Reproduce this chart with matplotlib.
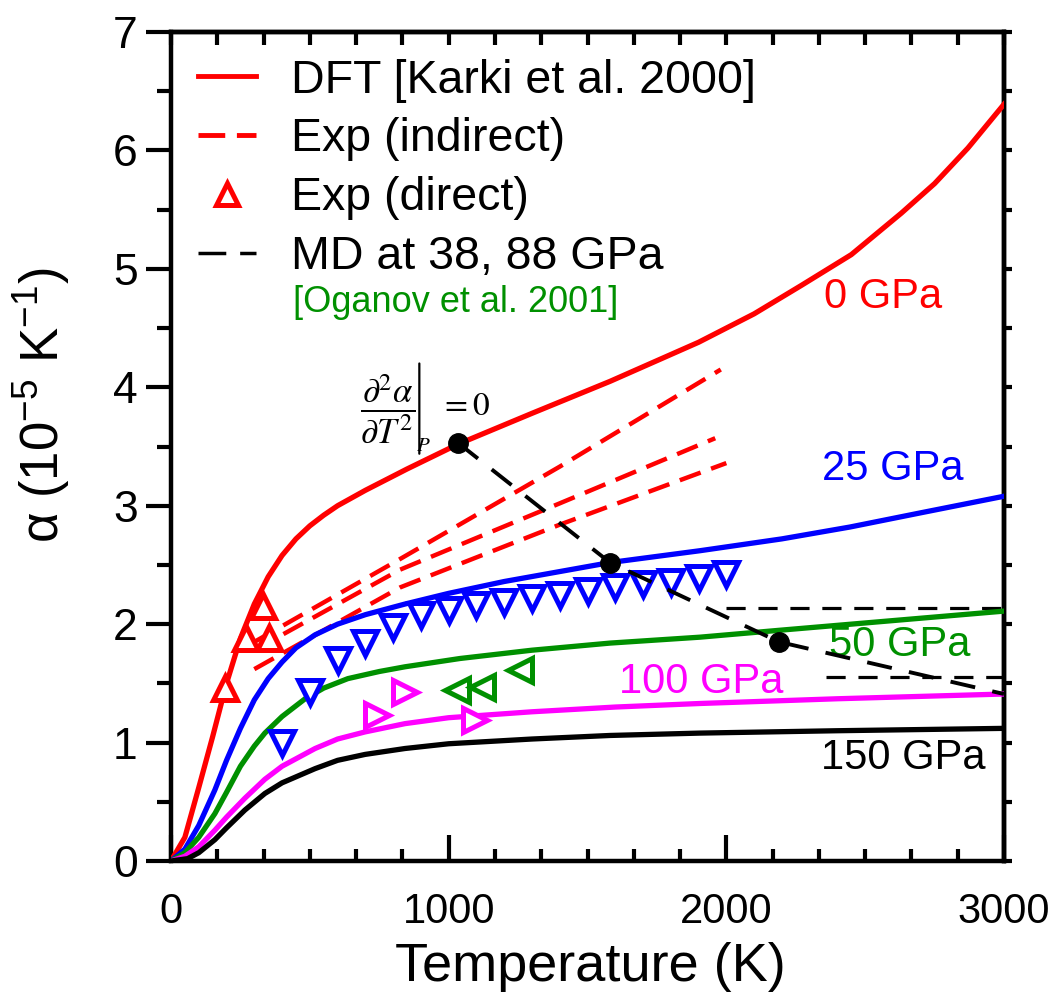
import matplotlib
matplotlib.use("Agg")
import matplotlib.pyplot as plt
from matplotlib.lines import Line2D
from matplotlib.ticker import MultipleLocator

plt.rcParams["font.family"] = ["Liberation Sans", "DejaVu Sans"]
plt.rcParams["mathtext.fontset"] = "custom"
plt.rcParams["mathtext.rm"] = "Liberation Sans"
plt.rcParams["mathtext.it"] = "Liberation Sans:italic"

RED = "#ff0000"
BLUE = "#0000ff"
GREEN = "#009000"
MAGENTA = "#ff00ff"
BLACK = "#000000"

# DFT curves, alpha in 1e-5 / K
t_0gpa = [0, 50, 100, 150, 200, 250, 300, 350, 400, 450, 500, 550, 600, 700, 850, 1034,
          1300, 1581, 1900, 2100, 2270, 2450, 2630, 2750, 2870, 3000]
a_0gpa = [0, 0.2, 0.62, 1.05, 1.5, 1.88, 2.17, 2.4, 2.58, 2.72, 2.83, 2.92, 3.0, 3.13, 3.31, 3.52,
          3.78, 4.05, 4.38, 4.62, 4.86, 5.12, 5.47, 5.72, 6.02, 6.39]

t_25gpa = [0, 50, 100, 158, 200, 250, 300, 350, 400, 450, 519, 600, 700, 843, 1000, 1200,
           1581, 1905, 2200, 2445, 2700, 3000]
a_25gpa = [0, 0.1, 0.3, 0.6, 0.85, 1.12, 1.36, 1.54, 1.68, 1.8, 1.91, 2.0, 2.08, 2.17, 2.26, 2.36,
           2.52, 2.62, 2.72, 2.82, 2.94, 3.08]

t_50gpa = [0, 50, 100, 158, 200, 250, 300, 338, 400, 483, 550, 637, 750, 843, 1041, 1300,
           1581, 1905, 2200, 2600, 3000]
a_50gpa = [0, 0.07, 0.2, 0.4, 0.58, 0.8, 0.97, 1.08, 1.22, 1.37, 1.46, 1.54, 1.6, 1.64, 1.71, 1.78,
           1.84, 1.89, 1.95, 2.03, 2.11]

t_100gpa = [0, 50, 100, 158, 200, 266, 338, 400, 519, 600, 699, 843, 1000, 1300, 1600, 1905, 2400, 3000]
a_100gpa = [0, 0.04, 0.12, 0.26, 0.37, 0.53, 0.69, 0.8, 0.95, 1.03, 1.09, 1.16, 1.21, 1.26, 1.3, 1.33, 1.37, 1.41]

t_150gpa = [0, 60, 100, 158, 200, 266, 338, 400, 519, 600, 699, 843, 1000, 1300, 1581, 1905, 2400, 3000]
a_150gpa = [0, 0.02, 0.07, 0.18, 0.28, 0.43, 0.57, 0.66, 0.78, 0.85, 0.9, 0.95, 0.99, 1.03, 1.06, 1.08, 1.1, 1.12]

# experiments (indirect)
t_ind1 = [300, 825, 1400, 1980]
a_ind1 = [1.85, 2.55, 3.33, 4.15]
t_ind2 = [300, 825, 1400, 1960]
a_ind2 = [1.78, 2.46, 3.02, 3.57]
t_ind3 = [300, 825, 1400, 2000]
a_ind3 = [1.62, 2.31, 2.84, 3.36]

# experiments (direct)
t_dir_0 = [194, 270, 331, 352]
a_dir_0 = [1.46, 1.88, 2.15, 1.88]
t_dir_25 = [400, 500, 600, 700, 800, 900, 1000, 1100, 1200, 1300, 1400, 1500, 1600, 1700, 1800, 1900, 2000]
a_dir_25 = [1.0, 1.43, 1.7, 1.84, 1.98, 2.08, 2.12, 2.16, 2.19, 2.22, 2.25, 2.28, 2.31, 2.34, 2.36, 2.39, 2.42]
t_dir_50 = [1030, 1120, 1257]
a_dir_50 = [1.44, 1.47, 1.61]
t_dir_100 = [742, 843, 1095]
a_dir_100 = [1.23, 1.43, 1.19]

# d2alpha/dT2 = 0 line
t_infl = [1034, 1581, 2190, 3000]
a_infl = [3.53, 2.52, 1.85, 1.41]
t_dots = [1034, 1581, 2190]
a_dots = [3.53, 2.52, 1.85]

# MD (Oganov et al. 2001)
t_md_38 = [2000, 3000]
a_md_38 = [2.14, 2.14]
t_md_88 = [2360, 3000]
a_md_88 = [1.55, 1.55]

W, H = 1062, 1002
fig = plt.figure(figsize=(W / 100, H / 100), dpi=100)
ax = fig.add_axes([171 / W, 1 - 861 / H, 833 / W, 829 / H])

lw = 3.8
ax.plot(t_0gpa, a_0gpa, color=RED, lw=lw, zorder=3)
ax.plot(t_25gpa, a_25gpa, color=BLUE, lw=lw, zorder=3)
ax.plot(t_50gpa, a_50gpa, color=GREEN, lw=lw, zorder=3)
ax.plot(t_100gpa, a_100gpa, color=MAGENTA, lw=lw, zorder=3)
ax.plot(t_150gpa, a_150gpa, color=BLACK, lw=lw, zorder=3)

red_dash = (0, (5, 2.5))
for t, a in [(t_ind1, a_ind1), (t_ind2, a_ind2), (t_ind3, a_ind3)]:
    ax.plot(t, a, color=RED, lw=3.2, linestyle=red_dash, zorder=2)

mk = dict(markersize=17, markeredgewidth=3.6, markerfacecolor="white", linestyle="none", zorder=4)
ax.plot(t_dir_0, a_dir_0, marker="^", markeredgecolor=RED, **mk)
ax.plot(t_dir_25, a_dir_25, marker="v", markeredgecolor=BLUE, **mk)
ax.plot(t_dir_50, a_dir_50, marker="<", markeredgecolor=GREEN, **mk)
ax.plot(t_dir_100, a_dir_100, marker=">", markeredgecolor=MAGENTA, **mk)

ax.plot(t_infl, a_infl, color=BLACK, lw=2.8, linestyle=(0, (6.5, 4.5)), zorder=5)
ax.plot(t_dots, a_dots, "o", color=BLACK, markersize=14, zorder=6)

md_dash = (0, (6, 4))
ax.plot(t_md_38, a_md_38, color=BLACK, lw=2.3, linestyle=md_dash, zorder=2)
ax.plot(t_md_88, a_md_88, color=BLACK, lw=2.3, linestyle=md_dash, zorder=2)

# pressure labels
lab = dict(fontsize=30, ha="center", va="center")
ax.text(2564, 4.76, "0 GPa", color=RED, **lab)
ax.text(2600, 3.31, "25 GPa", color=BLUE, **lab)
ax.text(2625, 1.82, "50 GPa", color=GREEN, **lab)
ax.text(1908, 1.51, "100 GPa", color=MAGENTA, **lab)
ax.text(2636, 0.87, "150 GPa", color=BLACK, **lab)

# d2alpha/dT2|_P = 0 note
frac = ax.text(681, 3.82, r"$\dfrac{\partial^2\alpha}{\partial T^2}$",
               fontsize=25, ha="left", va="center", math_fontfamily="stix")
ax.annotate("", xy=(1.07, 1.12), xycoords=frac, xytext=(1.07, -0.12), textcoords=frac,
            arrowprops=dict(arrowstyle="-", lw=1.6, color=BLACK, shrinkA=0, shrinkB=0))
ax.text(910, 3.51, r"$P$", fontsize=15, ha="center", va="center", math_fontfamily="stix")
ax.text(969, 3.84, r"$= 0$", fontsize=24, ha="left", va="center", math_fontfamily="stix")

# legend
handles = [
    Line2D([], [], color=RED, lw=3.5),
    Line2D([], [], color=RED, lw=3.5, linestyle=(0, (5.5, 2.4))),
    Line2D([], [], color=RED, marker="^", markersize=16, markeredgewidth=3.6,
           markerfacecolor="white", linestyle="none"),
    Line2D([], [], color=BLACK, lw=2.5, linestyle=(0, (8, 4))),
]
labels = ["DFT [Karki et al. 2000]", "Exp (indirect)", "Exp (direct)", "MD at 38, 88 GPa"]
ax.legend(handles, labels, loc="upper left", bbox_to_anchor=(0.032, 0.968), frameon=False,
          fontsize=33.5, handlelength=1.25, handletextpad=0.75, labelspacing=0.32,
          borderpad=0, borderaxespad=0)
ax.text(439, 4.72, "[Oganov et al. 2001]", color=GREEN, fontsize=26, ha="left", va="center")

# axes
ax.set_xlim(0, 3000)
ax.set_ylim(0, 7)
ax.xaxis.set_major_locator(MultipleLocator(1000))
ax.xaxis.set_minor_locator(MultipleLocator(1000 / 6))
ax.yaxis.set_major_locator(MultipleLocator(1))
ax.yaxis.set_minor_locator(MultipleLocator(0.5))
ax.tick_params(axis="x", which="major", direction="in", length=19, width=3, pad=22, labelsize=30)
ax.tick_params(axis="x", which="minor", direction="in", length=9, width=3)
ax.tick_params(axis="y", which="major", direction="out", length=18, width=3, pad=6, labelsize=32)
ax.tick_params(axis="y", which="minor", direction="out", length=10, width=3)
for s in ax.spines.values():
    s.set_linewidth(3.2)

top = ax.secondary_xaxis("top")
top.xaxis.set_major_locator(MultipleLocator(1000 / 6))
top.tick_params(direction="in", length=9, width=3, labeltop=False)
top.spines["top"].set_linewidth(3.2)
right = ax.secondary_yaxis("right")
right.yaxis.set_major_locator(MultipleLocator(0.5))
right.tick_params(direction="out", length=6, width=3, labelright=False)
right.spines["right"].set_linewidth(3.2)

ax.set_xlabel("Temperature (K)", fontsize=39)
ax.xaxis.set_label_coords(0.503, -0.098)
ax.set_ylabel(r"α (10$^{-5}$ K$^{-1}$)", fontsize=38)
ax.yaxis.set_label_coords(-0.119, 0.55)

fig.savefig("out.png", dpi=100)
